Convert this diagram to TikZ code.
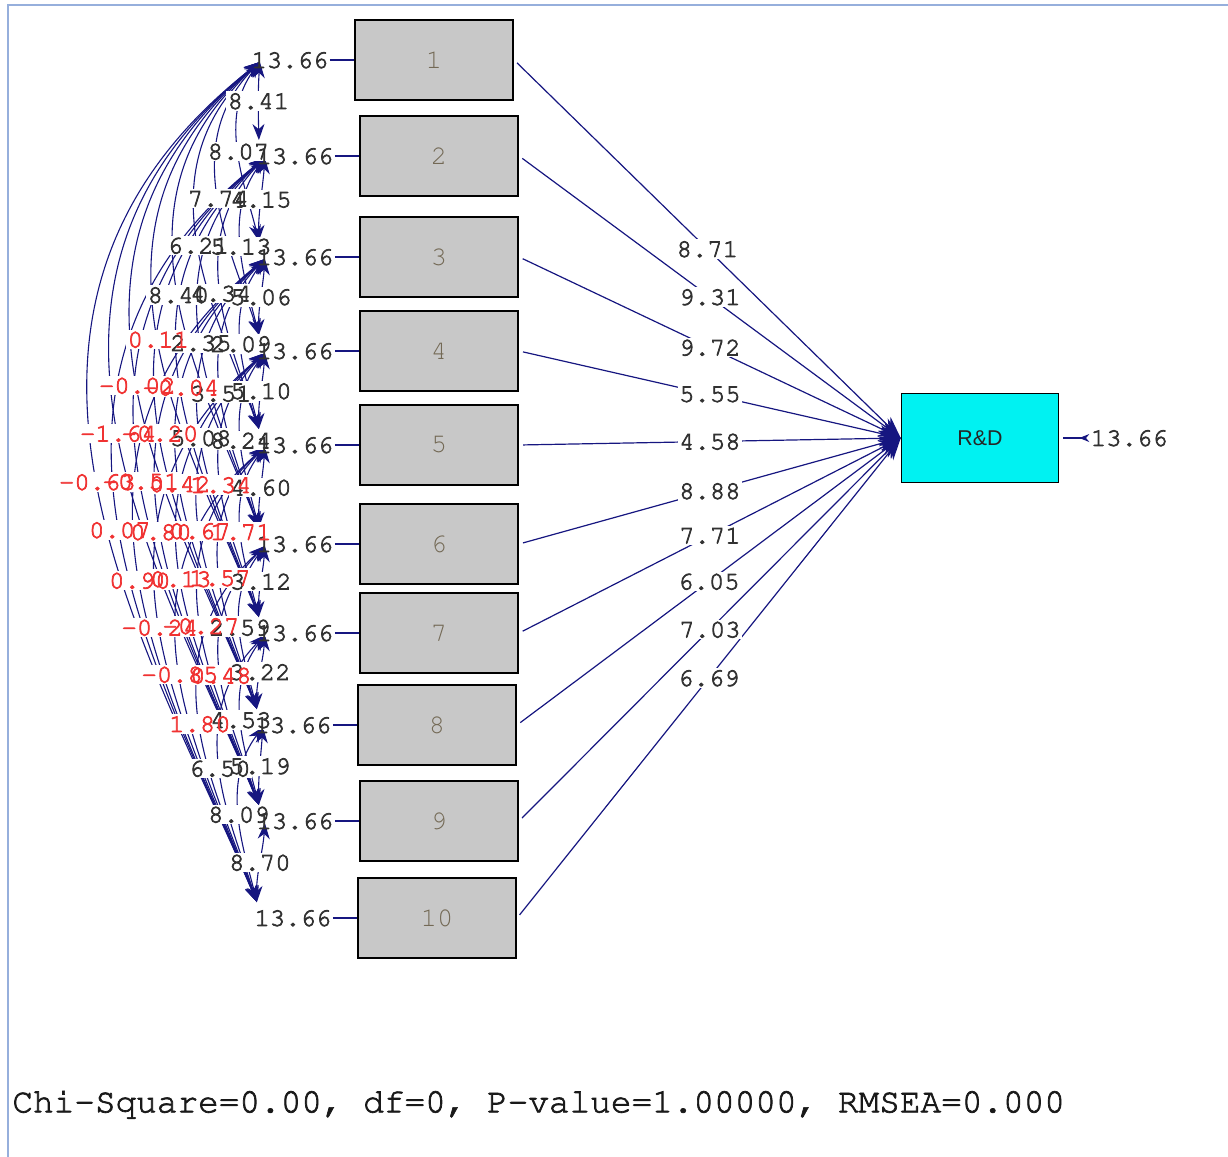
\documentclass[tikz,border=0pt]{standalone}
\usepackage[T1]{fontenc}
\usepackage{fontspec}
\setsansfont{Liberation Sans}
\usetikzlibrary{positioning,arrows.meta}

\newcommand\cour{\fontencoding{T1}\fontfamily{pcr}\selectfont}
\newcommand\thicktext{\special{pdf:literal direct 2 Tr 0.35 w}}

\definecolor{pathblue}{RGB}{22,22,128}
\definecolor{numgray}{RGB}{50,50,50}
\definecolor{tred}{RGB}{240,50,50}
\definecolor{boxgray}{RGB}{200,200,200}
\definecolor{boxnum}{RGB}{115,105,85}
\definecolor{rdcyan}{RGB}{0,242,242}
\definecolor{framebl}{RGB}{150,175,220}

\pgfdeclarelayer{lines}
\pgfdeclarelayer{gaps}
\pgfsetlayers{lines,gaps,main}

\begin{document}
\begin{tikzpicture}[x=0.5pt, y=-0.5pt,
    obs/.style = {draw=black, line width=1.1pt, fill=boxgray, minimum width=79pt, minimum height=40pt,
                  inner sep=0pt, text=boxnum, font=\cour\fontsize{13.5}{13.5}\selectfont},
    lat/.style = {draw=black, line width=0.8pt, fill=rdcyan, minimum width=78.5pt, minimum height=44.5pt,
                  text=black!85, font=\sffamily\fontsize{10.7}{12}\selectfont},
    est/.style = {text=numgray, inner sep=0.6pt, font=\cour\fontsize{12.8}{13}\selectfont\thicktext},
    gap/.style = {est, fill=white},
    load/.style = {draw=pathblue, line width=0.6pt, shorten <=2pt, -{Stealth[length=11pt,width=8pt]}},
    cov/.style = {draw=pathblue, line width=0.55pt, {Stealth[length=8pt,width=6pt]}-{Stealth[length=8pt,width=6pt]}},
    resid/.style = {draw=pathblue, line width=0.6pt}]
    \useasboundingbox (0,0) rectangle (1228,1157);
    \draw[framebl, line width=1pt] (8,1157) -- (8,5) -- (1228,5);

    \foreach \i/\x/\y in {1/434/60, 2/439/156, 3/439/257, 4/439/351, 5/439/445,
                          6/439/544, 7/439/633, 8/437/725, 9/439/821, 10/437/918} {
        \node[obs] (b\i) at (\x,\y) {\i};
        \node[est, left=12pt of b\i] (e\i) {13.66};
        \draw[resid] (e\i.east) -- (b\i.west);
        \coordinate (lo\i) at ([xshift=5pt, yshift=-1pt]e\i.west);
        \coordinate (hi\i) at ([xshift=2pt, yshift=8pt]e\i.west);
    }

    \node[lat] (rd) at (980,438) {R\&D};
    \node[est, right=15pt of rd] (rderr) {13.66};
    \draw[resid, shorten <=2pt, -{Stealth[reversed, length=5pt, width=4pt]}] (rd.east) -- (rderr.west);

    \foreach \i/\val in {1/8.71, 2/9.31, 3/9.72, 4/5.55, 5/4.58, 6/8.88, 7/7.71, 8/6.05, 9/7.03, 10/6.69} {
        \begin{pgfonlayer}{lines}
            \draw[load] (b\i.east) -- (rd.west);
        \end{pgfonlayer}
        \path (b\i.east) -- node[gap, pos=.5] {\val} (rd.west);
    }

    \foreach \i/\j/\val/\col in {
        1/2/8.41/numgray, 2/3/4.15/numgray, 3/4/5.06/numgray, 4/5/5.10/numgray, 5/6/4.60/numgray,
        6/7/3.12/numgray, 7/8/3.22/numgray, 8/9/5.19/numgray, 9/10/8.70/numgray,
        1/3/8.07/numgray, 2/4/5.13/numgray, 3/5/2.09/numgray, 4/6/8.24/numgray, 5/7/1.71/tred,
        6/8/2.59/numgray, 7/9/4.53/numgray, 8/10/8.09/numgray,
        1/4/7.74/numgray, 2/5/4.34/numgray, 3/6/3.51/numgray, 4/7/1.34/tred, 5/8/1.57/tred,
        6/9/0.48/tred, 7/10/6.50/numgray,
        1/5/6.21/numgray, 2/6/2.35/numgray, 3/7/5.08/numgray, 4/8/0.67/tred, 5/9/-0.27/tred, 6/10/1.80/tred,
        1/6/8.40/numgray, 2/7/-0.04/tred, 3/8/0.42/tred, 4/9/0.13/tred, 5/10/-0.85/tred,
        1/7/0.11/tred, 2/8/-0.20/tred, 3/9/0.80/tred, 4/10/-0.24/tred,
        1/8/-0.02/tred, 2/9/-0.51/tred, 3/10/0.90/tred,
        1/9/-1.64/tred, 2/10/0.07/tred,
        1/10/-0.63/tred} {
        \pgfmathsetmacro\dist{int(\j-\i)}
        \pgfmathsetmacro\A{8*(1+20*(\dist-1))/3}
        \begin{pgfonlayer}{lines}
            \draw[cov] (lo\i) .. controls +({-0.75*\A},{28*\dist}) and +({-0.25*\A},{-28*\dist}) .. (hi\j)
                coordinate[pos=.5] (k);
        \end{pgfonlayer}
        \begin{pgfonlayer}{gaps}
            \node[gap] at (k) {\phantom{\val}};
        \end{pgfonlayer}
        \node[est, text=\col] at (k) {\val};
    }

    \node[anchor=west, inner sep=0pt, text=black!90, font=\cour\fontsize{17.2}{18}\selectfont\thicktext] (fit) at (12,1104)
        {Chi-Square=0.00, df=0, P-value=1.00000, RMSEA=0.000};
\end{tikzpicture}
\end{document}
